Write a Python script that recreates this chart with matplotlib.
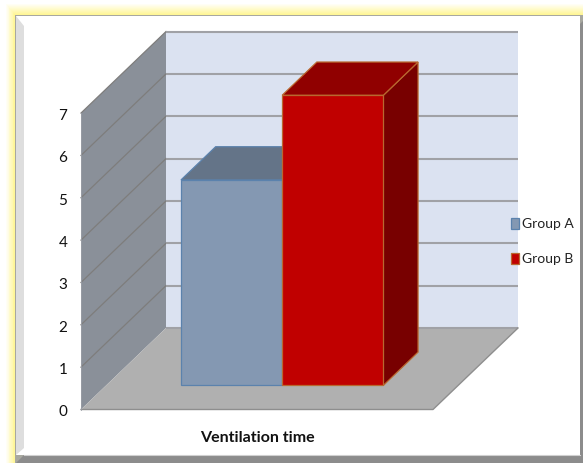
import numpy as np
import matplotlib
matplotlib.use('Agg')
import matplotlib.pyplot as plt
from matplotlib.patches import Polygon, Rectangle

category = 'Ventilation time'
series_names = ['Group A', 'Group B']
series_values = [4.85, 6.85]
y_ticks = [0, 1, 2, 3, 4, 5, 6, 7]

plt.rcParams['font.family'] = ['Lato', 'DejaVu Sans']

W, H = 583, 464
fig = plt.figure(figsize=(W / 100, H / 100), dpi=100)
ax = fig.add_axes([0, 0, 1, 1])
ax.set_xlim(0, W)
ax.set_ylim(H, 0)
ax.axis('off')


def project(x, y, z):
    # oblique projection: x across floor (0-1), y in axis units, z depth (0-1)
    return (81 + 352 * x + 85 * z, 410.5 - 42.35 * y - 81.5 * z)


def face(points, color, edge=None, lw=0.0, zorder=2):
    ax.add_patch(Polygon([project(*p) for p in points], closed=True, facecolor=color,
                         edgecolor=edge if edge else color, linewidth=lw, zorder=zorder))


# yellow glow round the panel
yellow = np.array([1.0, 0.96, 0.55])
for i in range(12, -1, -1):
    c = 1 - (1 - yellow) * (1 - i / 12) ** 1.0
    ax.add_patch(Rectangle((15 - 0.8 * i, 16 - i), W, H, facecolor=c, edgecolor='none', zorder=0))

# panel with bevelled edges
ax.add_patch(Rectangle((15, 16), W, H, facecolor='#a8a8a0', edgecolor='none', zorder=0.5))
ax.add_patch(Rectangle((16, 17), 564, 439, facecolor='white', edgecolor='none', zorder=0.6))
ax.add_patch(Polygon([(16, 17), (24, 27), (24, 449), (16, 456)], closed=True,
                     facecolor='#dedede', edgecolor='none', zorder=0.7))
ax.add_patch(Polygon([(16, 464), (24, 456), (580, 456), (580, 25), (583, 22), (583, 464)], closed=True,
                     facecolor='#8c8c8c', edgecolor='none', zorder=0.7))
ax.plot([24, 580], [455.5, 455.5], color='#d0d0d0', lw=0.8, zorder=0.8)

# walls and floor
top = max(y_ticks)
face([(0, 0, 1), (1, 0, 1), (1, top, 1), (0, top, 1)], '#dbe2f1')
face([(0, 0, 0), (0, 0, 1), (0, top, 1), (0, top, 0)], '#8a9099')
face([(0, 0, 0), (1, 0, 0), (1, 0, 1), (0, 0, 1)], '#b0b0b0', zorder=2.1)

# gridlines run along the side wall then the back wall
for t in y_ticks:
    (x0, y0), (x1, y1), (x2, y2) = project(0, t, 0), project(0, t, 1), project(1, t, 1)
    if t > 0:
        ax.plot([x0, x1], [y0, y1], color='#7e7d7c', lw=0.9, zorder=2.2)
    ax.plot([x1, x2], [y1, y2], color='#a0a1a6', lw=1.5, zorder=2.2, solid_capstyle='butt')
    ax.text(x0 - 18, y0 + 2, str(t), ha='center', va='center', fontsize=11, color='#111111', zorder=5)

# front edges of the floor
(fx0, fy0), (fx1, fy1), (fx2, fy2) = project(0, 0, 0), project(1, 0, 0), project(1, 0, 1)
ax.plot([fx0, fx1, fx2], [fy0, fy1, fy2], color='#8e8e8e', lw=1.0, zorder=2.3)
ax.plot([fx0, fx0], [fy0, project(0, top, 0)[1]], color='#9a9ea6', lw=0.6, zorder=2.3)

# one cluster of two bars
bar_w = 0.2875
gap = (1 - bar_w * len(series_values)) / 2
z0, z1 = 0.296, 0.704
bar_styles = [
    dict(front='#8498b2', top='#647488', side='#56657a', edge='#5b82ad'),
    dict(front='#c00000', top='#900000', side='#780000', edge='#b9682f'),
]
for i, (val, st) in enumerate(zip(series_values, bar_styles)):
    x0 = gap + i * bar_w
    x1 = x0 + bar_w
    zo = 3 + i
    face([(x1, 0, z0), (x1, 0, z1), (x1, val, z1), (x1, val, z0)], st['side'], st['edge'], 0.9, zo)
    face([(x0, val, z0), (x1, val, z0), (x1, val, z1), (x0, val, z1)], st['top'], st['edge'], 0.9, zo)
    face([(x0, 0, z0), (x1, 0, z0), (x1, val, z0), (x0, val, z0)], st['front'], st['edge'], 0.9, zo)

# legend
for name, st, ly in zip(series_names, bar_styles, [224, 258.5]):
    ax.add_patch(Rectangle((510.5, ly - 5), 8, 11, facecolor=st['front'], edgecolor=st['edge'],
                           linewidth=0.9, zorder=5))
    ax.text(522.5, ly + 0.5, name, ha='left', va='center', fontsize=10, color='#222222', zorder=5)

ax.text(257, 438, category, ha='center', va='center', fontsize=11.5, fontweight='bold',
        color='#111111', zorder=5)

fig.savefig('out.png', dpi=100)
